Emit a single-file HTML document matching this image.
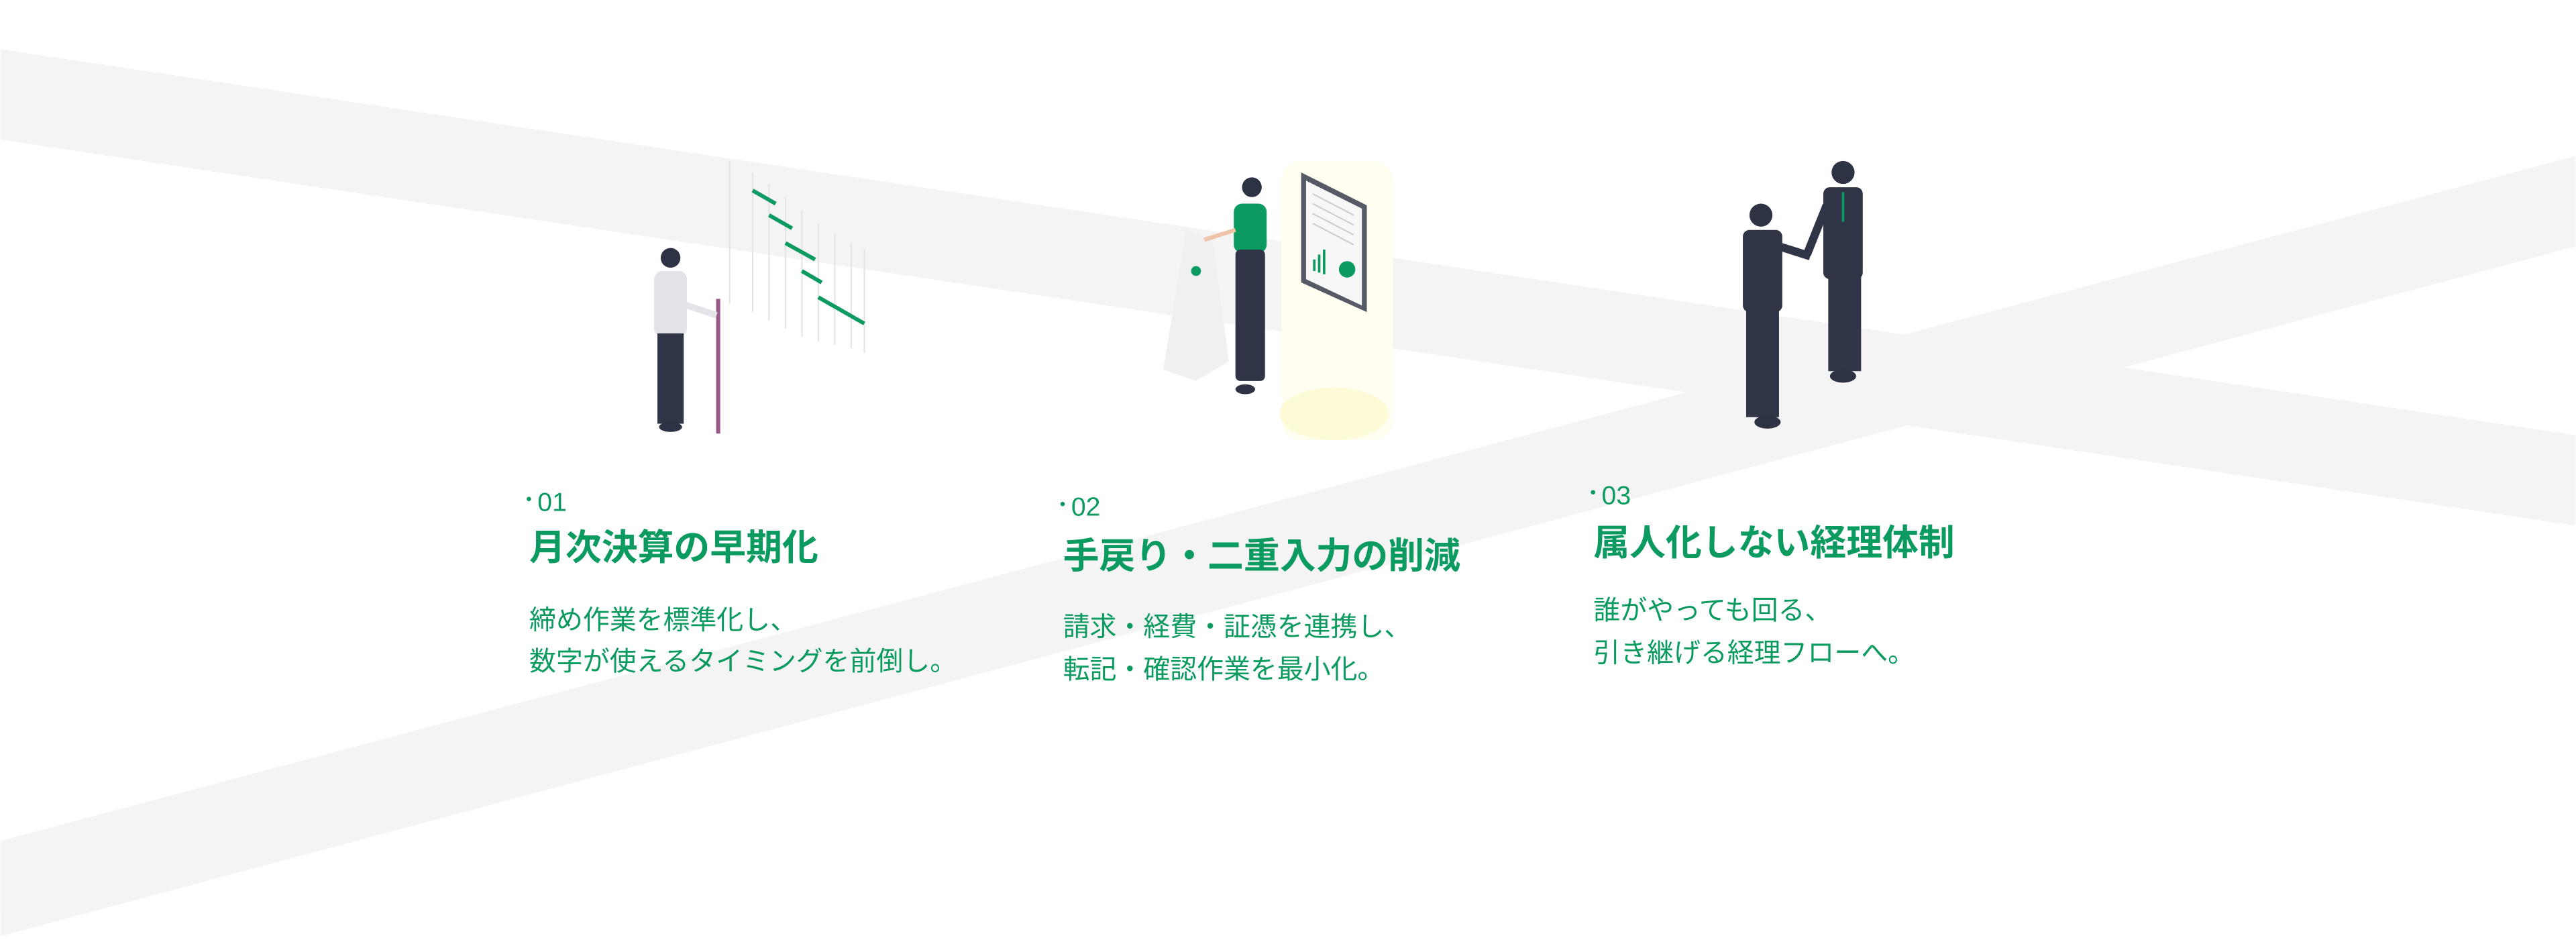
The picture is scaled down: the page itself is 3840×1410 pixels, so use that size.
<!DOCTYPE html>
<html><head><meta charset="utf-8"><style>
html,body{margin:0;padding:0;background:#fff;}
svg{display:block;}
text{font-family:"Liberation Sans","Noto Sans CJK JP",sans-serif;fill:#0b9a5f;}
.t{font-weight:700;font-size:22px;}
.b{font-size:16.3px;}
.n{font-size:16px;}
.d{font-size:10px;}
</style></head><body>
<svg width="3840" height="1410" viewBox="0 0 1568 576" xmlns="http://www.w3.org/2000/svg">
<rect width="1568" height="576" fill="#fff"/>
<polygon points="0,30 1568,265 1568,320 0,85" fill="#f4f4f4"/>
<polygon points="0,512 1568,95 1568,150 0,570" fill="#f4f4f4"/>

<g stroke="#e3e3e3" stroke-width="0.8">
<line x1="444" y1="98" x2="444" y2="185"/><line x1="458" y1="105" x2="458" y2="190"/>
<line x1="468" y1="112" x2="468" y2="195"/><line x1="478" y1="120" x2="478" y2="200"/>
<line x1="488" y1="128" x2="488" y2="205"/><line x1="498" y1="136" x2="498" y2="208"/>
<line x1="508" y1="142" x2="508" y2="210"/><line x1="518" y1="148" x2="518" y2="212"/>
<line x1="526" y1="152" x2="526" y2="215"/>
</g>
<g stroke="#0b9a5f" stroke-width="2.4">
<line x1="458" y1="116" x2="472" y2="124"/><line x1="468" y1="131" x2="482" y2="139"/>
<line x1="478" y1="148" x2="496" y2="158"/><line x1="488" y1="165" x2="500" y2="172"/>
<line x1="498" y1="181" x2="526" y2="197"/>
</g>
<line x1="437" y1="182" x2="437" y2="264" stroke="#9a5a8a" stroke-width="2.5"/>
<circle cx="408" cy="157" r="6" fill="#2d3245"/>
<rect x="398" y="165" width="20" height="40" rx="5" fill="#e4e4e8"/>
<line x1="415" y1="185" x2="436" y2="192" stroke="#e4e4e8" stroke-width="4"/>
<rect x="400" y="203" width="16" height="55" fill="#2f3447"/>
<ellipse cx="408" cy="260" rx="7" ry="3" fill="#2d3245"/>

<rect x="780" y="98" width="68" height="170" rx="12" fill="#fffef0"/>
<ellipse cx="812" cy="252" rx="33" ry="16" fill="#fdfbd6"/>
<polygon points="792,105 832,125 832,190 792,172" fill="#555a66"/>
<polygon points="795,110 829,127 829,186 795,170" fill="#f7f7f7"/>
<g stroke="#ccc" stroke-width="0.8"><line x1="799" y1="118" x2="824" y2="131"/><line x1="799" y1="124" x2="824" y2="137"/><line x1="799" y1="130" x2="824" y2="143"/><line x1="799" y1="136" x2="824" y2="149"/></g>
<g stroke="#0b9a5f" stroke-width="1.5"><line x1="800" y1="158" x2="800" y2="165"/><line x1="803" y1="155" x2="803" y2="166"/><line x1="806" y1="152" x2="806" y2="167"/></g>
<circle cx="820" cy="164" r="5" fill="#0b9a5f"/>
<polygon points="722,140 738,146 748,220 728,232 708,225" fill="#f0f0f0"/>
<circle cx="728" cy="165" r="3" fill="#0b9a5f"/>
<circle cx="762" cy="114" r="6" fill="#2d3245"/>
<rect x="751" y="124" width="20" height="30" rx="5" fill="#0b9a5f"/>
<line x1="752" y1="140" x2="733" y2="146" stroke="#f0c4a8" stroke-width="2.5"/>
<rect x="752" y="152" width="18" height="80" rx="3" fill="#2f3447"/>
<ellipse cx="758" cy="237" rx="6" ry="3" fill="#2d3245"/>

<circle cx="1072" cy="131" r="7" fill="#2d3245"/>
<rect x="1061" y="140" width="24" height="50" rx="4" fill="#2f3447"/>
<line x1="1083" y1="150" x2="1102" y2="156" stroke="#2f3447" stroke-width="5"/>
<rect x="1063" y="188" width="20" height="66" fill="#2f3447"/>
<ellipse cx="1076" cy="257" rx="8" ry="4" fill="#2d3245"/>
<circle cx="1122" cy="105" r="7" fill="#2d3245"/>
<rect x="1110" y="114" width="24" height="56" rx="4" fill="#2f3447"/>
<line x1="1122" y1="117" x2="1122" y2="135" stroke="#0b9a5f" stroke-width="1.5"/>
<line x1="1112" y1="125" x2="1100" y2="155" stroke="#2f3447" stroke-width="5"/>
<rect x="1113" y="168" width="20" height="58" fill="#2f3447"/>
<ellipse cx="1122" cy="229" rx="8" ry="4" fill="#2d3245"/>

<text class="d" x="320" y="307">•</text><text class="n" x="327" y="311">01</text>
<text class="t" x="322" y="341">月次決算の早期化</text>
<text class="b" x="322" y="383">締め作業を標準化し、</text>
<text class="b" x="322" y="408">数字が使えるタイミングを前倒し。</text>
<text class="d" x="645" y="310">•</text><text class="n" x="652" y="314">02</text>
<text class="t" x="647" y="346">手戻り・二重入力の削減</text>
<text class="b" x="647" y="387">請求・経費・証憑を連携し、</text>
<text class="b" x="647" y="413">転記・確認作業を最小化。</text>
<text class="d" x="968" y="303">•</text><text class="n" x="975" y="307">03</text>
<text class="t" x="970" y="338">属人化しない経理体制</text>
<text class="b" x="970" y="377">誰がやっても回る、</text>
<text class="b" x="970" y="403">引き継げる経理フローへ。</text>
</svg>
</body></html>
